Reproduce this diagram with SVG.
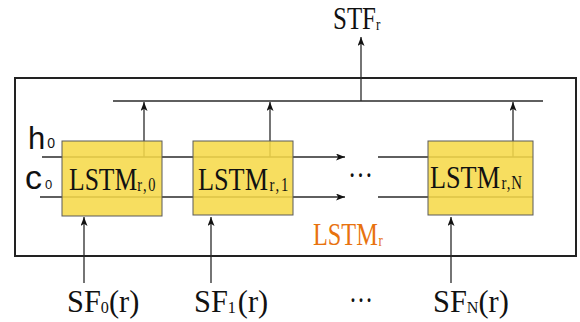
<svg xmlns="http://www.w3.org/2000/svg" width="580" height="322" viewBox="0 0 580 322">
<defs>
<style>
.ln{stroke:#2a2a2a;stroke-width:1.3;fill:none}
.box{fill:#f6d94a;fill-opacity:0.88;stroke:#5a5a5a;stroke-width:1}
.serif{font-family:"Liberation Serif","Times New Roman",serif;fill:#111;font-size:32px}
.sans{font-family:"Liberation Sans",Arial,sans-serif;fill:#111}
.orange{fill:#e8720e}
.sub{font-size:18px;letter-spacing:2px}
.sub1{font-size:17px}
</style>
<marker id="ah" markerUnits="userSpaceOnUse" markerWidth="10" markerHeight="8" refX="9" refY="3.5" orient="auto">
<path d="M0,0 L9,3.5 L0,7 L2.2,3.5 z" fill="#111"/>
</marker>
</defs>
<rect width="580" height="322" fill="#fff"/>

<g id="container">
<rect x="15" y="78" width="561" height="178" fill="none" stroke="#222" stroke-width="2"/>
<text class="serif orange" transform="translate(313,245) scale(0.76,1)">LSTM<tspan class="sub1" dx="1" dy="1">r</tspan></text>
</g>

<g id="connectors">
<line class="ln" x1="113" y1="101" x2="543" y2="101"/>
<line class="ln" x1="361" y1="101" x2="361" y2="37" marker-end="url(#ah)"/>
<line class="ln" x1="42" y1="157" x2="345" y2="157" marker-end="url(#ah)"/>
<line class="ln" x1="40" y1="197" x2="345" y2="197" marker-end="url(#ah)"/>
<line class="ln" x1="378" y1="157" x2="533" y2="157"/>
<line class="ln" x1="378" y1="197" x2="533" y2="197"/>
<line class="ln" x1="144" y1="157" x2="144" y2="102" marker-end="url(#ah)"/>
<line class="ln" x1="270" y1="157" x2="270" y2="102" marker-end="url(#ah)"/>
<line class="ln" x1="513" y1="157" x2="513" y2="102" marker-end="url(#ah)"/>
<line class="ln" x1="84" y1="283" x2="84" y2="217" marker-end="url(#ah)"/>
<line class="ln" x1="211" y1="283" x2="211" y2="217" marker-end="url(#ah)"/>
<line class="ln" x1="451" y1="283" x2="451" y2="217" marker-end="url(#ah)"/>
</g>

<g id="lstm0">
<rect class="box" x="62" y="141" width="100" height="75"/>
<text class="serif" transform="translate(69,190) scale(0.8,1)">LSTM<tspan class="sub" dy="1">r,0</tspan></text>
</g>
<g id="lstm1">
<rect class="box" x="193" y="141" width="100" height="74"/>
<text class="serif" transform="translate(198,190) scale(0.82,1)">LSTM<tspan class="sub" dx="2" dy="1">r,1</tspan></text>
</g>
<g id="lstmN">
<rect class="box" x="428" y="141" width="105" height="74"/>
<text class="serif" transform="translate(430,188) scale(0.82,1)">LSTM<tspan class="sub" dx="2" dy="1" style="letter-spacing:1px">r,N</tspan></text>
</g>

<g id="labels">
<text class="serif" transform="translate(333,29) scale(0.78,1)">STF<tspan class="sub1" dy="1">r</tspan></text>
<text class="sans" x="28" y="149" font-size="31">h<tspan font-size="14" dx="2" dy="-1">0</tspan></text>
<text class="sans" x="25" y="189" font-size="34">c<tspan font-size="13" dx="3">0</tspan></text>
<text class="serif" x="348" y="177" font-size="30" textLength="25" lengthAdjust="spacingAndGlyphs">…</text>
<text class="serif" x="349" y="302" font-size="30" textLength="24" lengthAdjust="spacingAndGlyphs">…</text>
<text class="serif" transform="translate(67,312) scale(0.95,1)">SF<tspan class="sub1" dy="1">0</tspan><tspan dy="-1">(r)</tspan></text>
<text class="serif" transform="translate(194,312) scale(0.95,1)">SF<tspan class="sub1" dy="1">1</tspan><tspan dx="2" dy="-1">(r)</tspan></text>
<text class="serif" transform="translate(433,312) scale(0.95,1)">SF<tspan class="sub1" dy="1">N</tspan><tspan dy="-1">(r)</tspan></text>
</g>
</svg>
